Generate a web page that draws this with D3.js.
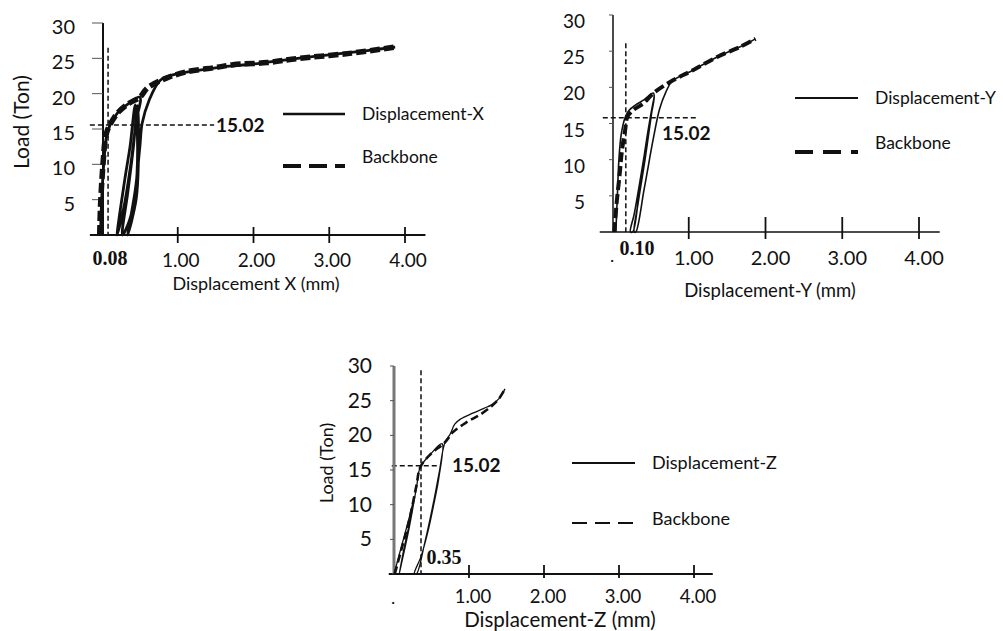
<!DOCTYPE html>
<html><head><meta charset="utf-8">
<script src="https://cdn.jsdelivr.net/npm/d3@7"></script>
<style>
body{margin:0;background:#fff}
svg{display:block}
text{font-family:Lato,'Open Sans',sans-serif;fill:#111}
.serif{font-family:'Liberation Serif','DejaVu Serif',serif;font-weight:bold}
.bold{font-family:Lato,'Open Sans',sans-serif;font-weight:700}
</style>
</head><body>
<svg id="c" width="1003" height="631"></svg>
<script>
// ---------- shared tick values ----------
const xTicks = [1, 2, 3, 4];
const xTickLabels = ["1.00", "2.00", "3.00", "4.00"];
const yTicks = [5, 10, 15, 20, 25, 30];
const yTickLabels = ["5", "10", "15", "20", "25", "30"];

// ---------- Panel X ----------
const bbX_x = [-0.03, -0.02, 0.0, 0.02, 0.04, 0.07, 0.1, 0.2, 0.35, 0.5, 0.6, 0.85, 1.12, 1.5, 1.73, 2.18, 2.6, 3.27, 3.87];
const bbX_y = [0, 4, 8, 11, 13.4, 14.8, 15.5, 17.2, 18.6, 19.5, 20.8, 22.2, 23.1, 23.7, 24.1, 24.4, 25.0, 25.7, 26.6];
const loopX_x = [-0.02, 0.0, 0.03, 0.06, 0.1, 0.2, 0.35, 0.5, 0.45, 0.38, 0.29, 0.2, 0.3, 0.37, 0.44, 0.47, 0.44, 0.36, 0.27, 0.34, 0.41, 0.47, 0.48, 0.45, 0.34, 0.44, 0.5, 0.53, 0.62, 0.77, 0.95, 1.2, 1.6, 2.0, 2.5, 3.0, 3.5, 3.87];
const loopX_y = [0, 6, 11, 14, 15.4, 17.2, 18.6, 19.5, 16, 10, 4, 0, 7.8, 12.5, 18.4, 12, 6, 2, 0, 6, 12, 18.3, 10.2, 5, 0, 6.4, 12.5, 15.8, 19, 21.9, 22.7, 23.2, 23.8, 24.2, 24.9, 25.5, 26.1, 26.6];

// ---------- Panel Y ----------
const bbY_x = [0.03, 0.06, 0.1, 0.13, 0.17, 0.2, 0.27, 0.41, 0.54, 0.8, 1.06, 1.37, 1.67, 1.87];
const bbY_y = [0, 4, 8, 11.3, 14, 15.9, 16.8, 17.8, 19.2, 21, 22.4, 24.2, 25.6, 26.7];
const loopY_x = [0.05, 0.07, 0.09, 0.12, 0.17, 0.22, 0.3, 0.42, 0.54, 0.47, 0.38, 0.29, 0.24, 0.27, 0.37, 0.47, 0.55, 0.51, 0.43, 0.34, 0.29, 0.31, 0.42, 0.54, 0.62, 0.7, 0.78, 1.06, 1.37, 1.67, 1.87];
const loopY_y = [0, 5, 10, 13.5, 15.8, 16.8, 17.5, 18.3, 19.2, 14, 8, 2.5, 0, 0, 7, 14, 18.8, 16, 10, 4, 0, 0, 6, 13, 17, 19.3, 20.8, 22.4, 24.2, 25.6, 26.7];

// ---------- Panel Z ----------
const bbZ_x = [0.01, 0.1, 0.2, 0.3, 0.35, 0.48, 0.68, 0.79, 0.97, 1.15, 1.3, 1.4, 1.48];
const bbZ_y = [0, 3.6, 7.6, 12.8, 15.4, 17.2, 19.0, 20.5, 21.9, 23.0, 24.2, 25.3, 26.7];
const loopZ_x = [0.0, 0.1, 0.2, 0.26, 0.2, 0.13, 0.07, 0.1, 0.2, 0.3, 0.35, 0.48, 0.64, 0.6, 0.53, 0.45, 0.36, 0.27, 0.3, 0.42, 0.52, 0.6, 0.68, 0.75, 0.81, 0.88, 1.05, 1.2, 1.3, 1.4, 1.48];
const loopZ_y = [0, 4, 8, 10.6, 7, 3.5, 0, 1.5, 6.5, 12.5, 15.4, 17.2, 18.8, 14, 10, 6, 2.5, 0, 0, 5, 10, 14.5, 19, 20.2, 21.6, 22.3, 23.2, 23.9, 24.4, 25.3, 26.7];

// ---------- annotations ----------
const guideLoad = [15.56, 15.8, 15.6];
const guideDisp = [0.08, 0.18, 0.36];
const guideLoadLabels = ["15.02", "15.02", "15.02"];
const guideDispLabels = ["0.08", "0.10", "0.35"];
const seriesNames = ["Displacement-X", "Displacement-Y", "Displacement-Z"];
const backboneName = "Backbone";
const xTitles = ["Displacement X (mm)", "Displacement-Y (mm)", "Displacement-Z (mm)"];
const yTitle = "Load (Ton)";

const zip = (a, b) => a.map((v, i) => [v, b[i]]);
const svg = d3.select("#c");

const panels = [
  { bb: zip(bbX_x, bbX_y), loop: zip(loopX_x, loopX_y), i: 0,
    xr: [102, 405], yr: [235, 23], xAxisExt: [-0.16, 4.27], axisW: 2, yAxisX: 103, yAxisColor: "#111", yAxisW: 2,
    yTickLen: 11, yLabX: 75, yLabDy: 11, yLabSize: 20,
    xTickUp: 8, xTickDown: 8, xLabDx: 3, xLabY: 267, xLabSize: 19, originLabel: null,
    dispLab: { x: 110, y: 265 },
    xTitle: { x: 256, y: 290, size: 18 }, yTitleP: { x: 22, y: 122, size: 21 },
    hGuide: [-0.16, 1.48], vGuideTop: 26.5, loadLab: { x: 216, y: 132 },
    solidW: 2.8, dashW: 5.5, dash: "10,4",
    leg: { x1: 283, x2: 345, ys: 114, yd: 166, tx: 362, tys: 120, tyd: 163, size: 17.5, sw: 2.5, dw: 4, dash: "18,8" }
  },
  { bb: zip(bbY_x, bbY_y), loop: zip(loopY_x, loopY_y), i: 1,
    xr: [612, 919], yr: [232, 15], xAxisExt: [-0.16, 4.27], axisW: 1.6, yAxisX: 613, yAxisColor: "#111", yAxisW: 1.5,
    yTickLen: 4, yLabX: 585, yLabDy: 13, yLabSize: 19,
    xTickUp: 15, xTickDown: 7, xLabDx: 5, xLabY: 265, xLabSize: 20, originLabel: { x: 612, y: 262 },
    dispLab: { x: 637, y: 255 },
    xTitle: { x: 770, y: 297, size: 18.5 }, yTitleP: null,
    hGuide: [-0.12, 1.11], vGuideTop: 26.1, loadLab: { x: 662, y: 140 },
    solidW: 1.6, dashW: 4, dash: "10,4",
    leg: { x1: 795, x2: 858, ys: 98, yd: 152, tx: 875, tys: 104, tyd: 149, size: 17.5, sw: 2, dw: 4, dash: "18,10" }
  },
  { bb: zip(bbZ_x, bbZ_y), loop: zip(loopZ_x, loopZ_y), i: 2,
    xr: [394, 694], yr: [574, 366], xAxisExt: [-0.07, 4.25], axisW: 2, yAxisX: 394, yAxisColor: "#777", yAxisW: 3,
    yTickLen: 4, yLabX: 372, yLabDy: 7, yLabSize: 21,
    xTickUp: 9, xTickDown: 4, xLabDx: 4, xLabY: 603, xLabSize: 18.5, originLabel: { x: 393, y: 604 },
    dispLab: { x: 444, y: 564 },
    xTitle: { x: 560, y: 627, size: 20.5 }, yTitleP: { x: 327, y: 463, size: 18 },
    hGuide: [-0.03, 0.61], vGuideTop: 29.4, loadLab: { x: 452, y: 472 },
    solidW: 1.3, dashW: 2.6, dash: "8,4",
    leg: { x1: 572, x2: 635, ys: 463, yd: 523, tx: 652, tys: 469, tyd: 525, size: 18, sw: 2, dw: 2.2, dash: "15,8" }
  }
];

panels.forEach(c => {
  const g = svg.append("g");
  const x = d3.scaleLinear().domain([0, 4]).range(c.xr);
  const y = d3.scaleLinear().domain([0, 30]).range(c.yr);

  // guides (behind)
  g.append("line").attr("x1", x(c.hGuide[0])).attr("x2", x(c.hGuide[1]))
    .attr("y1", y(guideLoad[c.i])).attr("y2", y(guideLoad[c.i]))
    .attr("stroke", "#111").attr("stroke-width", 1.5).attr("stroke-dasharray", "5,3");
  g.append("line").attr("x1", x(guideDisp[c.i])).attr("x2", x(guideDisp[c.i]))
    .attr("y1", y(c.vGuideTop)).attr("y2", y(0))
    .attr("stroke", "#111").attr("stroke-width", 1.5).attr("stroke-dasharray", "5,3");

  // axes
  g.append("line").attr("x1", x(c.xAxisExt[0])).attr("x2", x(c.xAxisExt[1]))
    .attr("y1", y(0)).attr("y2", y(0)).attr("stroke", "#111").attr("stroke-width", c.axisW);
  g.append("line").attr("x1", c.yAxisX).attr("x2", c.yAxisX)
    .attr("y1", y(30)).attr("y2", y(0)).attr("stroke", c.yAxisColor).attr("stroke-width", c.yAxisW);
  g.selectAll(".yt").data(yTicks).join("line")
    .attr("x1", c.yAxisX - c.yTickLen).attr("x2", c.yAxisX)
    .attr("y1", d => y(d)).attr("y2", d => y(d)).attr("stroke", "#555").attr("stroke-width", 1);
  g.selectAll(".yl").data(yTicks).join("text")
    .attr("x", c.yLabX).attr("y", d => y(d) + c.yLabDy).attr("text-anchor", "end")
    .attr("font-size", c.yLabSize).text((d, i) => yTickLabels[i]);
  g.selectAll(".xt").data(xTicks).join("line")
    .attr("x1", d => x(d)).attr("x2", d => x(d))
    .attr("y1", y(0) - c.xTickUp).attr("y2", y(0) + c.xTickDown)
    .attr("stroke", "#111").attr("stroke-width", 1.8);
  g.selectAll(".xl").data(xTicks).join("text")
    .attr("x", d => x(d) + c.xLabDx).attr("y", c.xLabY).attr("text-anchor", "middle")
    .attr("font-size", c.xLabSize).text((d, i) => xTickLabels[i]);
  if (c.originLabel) g.append("text").attr("x", c.originLabel.x).attr("y", c.originLabel.y)
    .attr("text-anchor", "middle").attr("font-size", 18).text(".");

  // curves
  const line = d3.line().x(d => x(d[0])).y(d => y(d[1])).curve(d3.curveCatmullRom.alpha(0.5));
  g.append("path").attr("d", line(c.loop)).attr("fill", "none").attr("stroke", "#111")
    .attr("stroke-width", c.solidW).attr("stroke-linejoin", "round");
  g.append("path").attr("d", line(c.bb)).attr("fill", "none").attr("stroke", "#111")
    .attr("stroke-width", c.dashW).attr("stroke-dasharray", c.dash);

  // annotation labels
  g.append("text").attr("class", "bold").attr("x", c.loadLab.x).attr("y", c.loadLab.y).attr("font-size", 19)
    .text(guideLoadLabels[c.i]);
  g.append("text").attr("class", "serif").attr("x", c.dispLab.x).attr("y", c.dispLab.y)
    .attr("text-anchor", "middle").attr("font-size", 20).text(guideDispLabels[c.i]);

  // titles
  g.append("text").attr("x", c.xTitle.x).attr("y", c.xTitle.y).attr("text-anchor", "middle")
    .attr("font-size", c.xTitle.size).text(xTitles[c.i]);
  if (c.yTitleP) g.append("text").attr("transform", `translate(${c.yTitleP.x},${c.yTitleP.y}) rotate(-90)`)
    .attr("text-anchor", "middle").attr("dy", "0.35em").attr("font-size", c.yTitleP.size).text(yTitle);

  // legend
  const L = c.leg;
  g.append("line").attr("x1", L.x1).attr("x2", L.x2).attr("y1", L.ys).attr("y2", L.ys)
    .attr("stroke", "#111").attr("stroke-width", L.sw);
  g.append("line").attr("x1", L.x1).attr("x2", L.x2).attr("y1", L.yd).attr("y2", L.yd)
    .attr("stroke", "#111").attr("stroke-width", L.dw).attr("stroke-dasharray", L.dash);
  g.append("text").attr("x", L.tx).attr("y", L.tys).attr("font-size", L.size).text(seriesNames[c.i]);
  g.append("text").attr("x", L.tx).attr("y", L.tyd).attr("font-size", L.size).text(backboneName);
});
</script>
</body></html>
